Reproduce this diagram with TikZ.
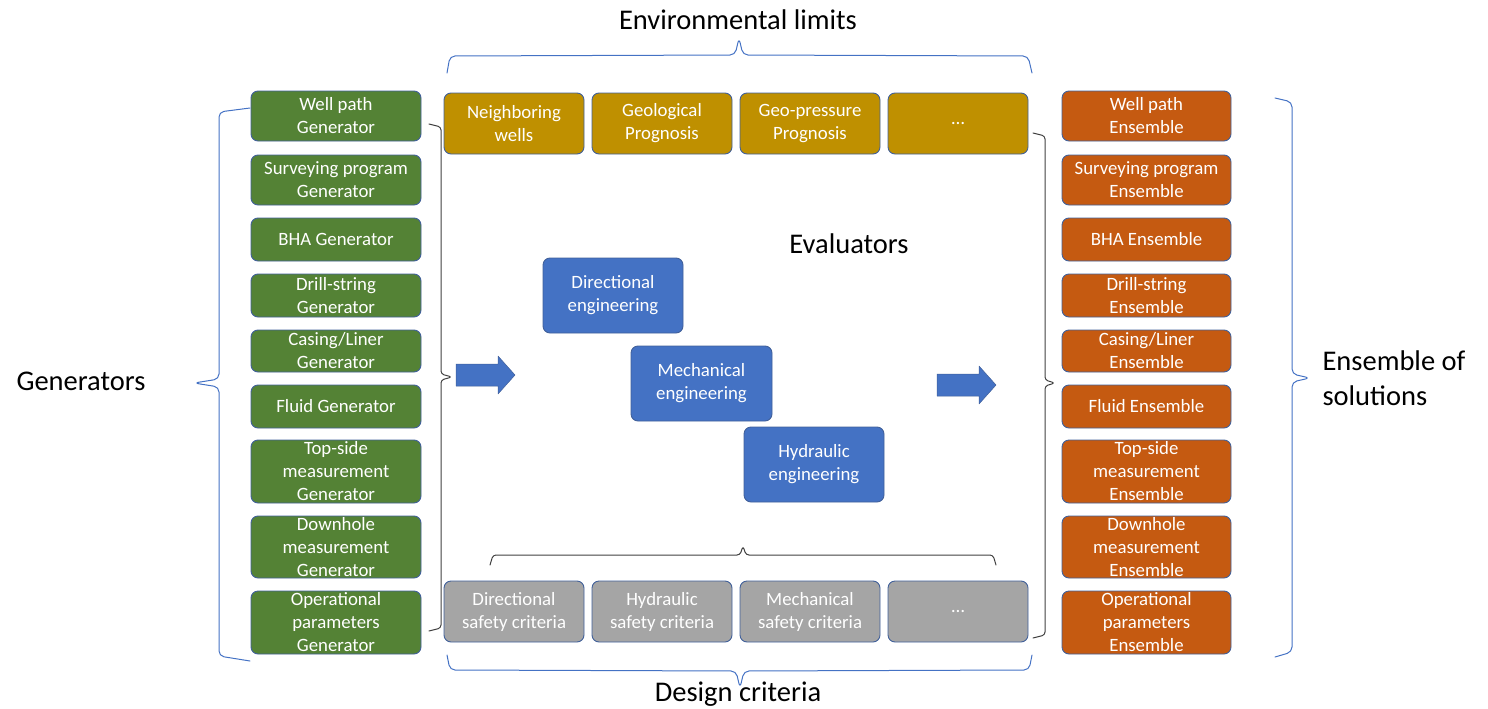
\documentclass[tikz,border=0pt]{standalone}
\usepackage{fontspec}
\setmainfont{Carlito}
\usepackage{tikz}
\usetikzlibrary{arrows}

\definecolor{gengreen}{HTML}{548235}
\definecolor{envgold}{HTML}{BF9000}
\definecolor{ensorange}{HTML}{C55A11}
\definecolor{evalblue}{HTML}{4472C4}
\definecolor{critgray}{HTML}{A5A5A5}
\definecolor{boxedge}{HTML}{41609A}
\definecolor{bracedark}{HTML}{404040}

\tikzset{
  box/.style={draw=boxedge, line width=0.9pt, rounded corners=7pt, text=white, align=center,
    inner sep=0pt, font=\fontsize{18.8}{23}\selectfont},
  genbox/.style={box, fill=gengreen, minimum width=170, minimum height=#1},
  ensbox/.style={box, fill=ensorange, minimum width=169, minimum height=#1},
  envbox/.style={box, fill=envgold, minimum width=140, minimum height=61},
  critbox/.style={box, fill=critgray, minimum width=140, minimum height=61},
  evalbox/.style={box, fill=evalblue, minimum width=140, minimum height=75},
  bigtext/.style={font=\fontsize{28.5}{35}\selectfont, align=left},
  bluebrace/.style={draw=evalblue, line width=1pt, rounded corners=5pt},
  darkbrace/.style={draw=bracedark, line width=1pt, rounded corners=3pt}
}

\begin{document}
\begin{tikzpicture}[line cap=round,line join=round,x=1pt,y=-1pt]
\useasboundingbox (0,0) rectangle (1488,709);

% generators
\node[genbox=50] (wellgen) at (336,116) {Well path\\Generator};
\node[genbox=50] (surveygen) at (336,180) {Surveying program\\Generator};
\node[genbox=43] (bhagen) at (336,239.5) {BHA Generator};
\node[genbox=43] (drillgen) at (336,295.5) {Drill-string\\Generator};
\node[genbox=42] (casinggen) at (336,351) {Casing/Liner\\Generator};
\node[genbox=43] (fluidgen) at (336,406.5) {Fluid Generator};
\node[genbox=63] (topgen) at (336,471.5) {Top-side\\measurement\\Generator};
\node[genbox=62] (downgen) at (336,547) {Downhole\\measurement\\Generator};
\node[genbox=63] (opgen) at (336,622.5) {Operational\\parameters\\Generator};

% ensembles
\node[ensbox=50] (wellens) at (1146.5,116) {Well path\\Ensemble};
\node[ensbox=50] (surveyens) at (1146.5,180) {Surveying program\\Ensemble};
\node[ensbox=43] (bhaens) at (1146.5,239.5) {BHA Ensemble};
\node[ensbox=43] (drillens) at (1146.5,295.5) {Drill-string\\Ensemble};
\node[ensbox=42] (casingens) at (1146.5,351) {Casing/Liner\\Ensemble};
\node[ensbox=43] (fluidens) at (1146.5,406.5) {Fluid Ensemble};
\node[ensbox=63] (topens) at (1146.5,471.5) {Top-side\\measurement\\Ensemble};
\node[ensbox=62] (downens) at (1146.5,547) {Downhole\\measurement\\Ensemble};
\node[ensbox=63] (opens) at (1146.5,622.5) {Operational\\parameters\\Ensemble};

% environmental limits
\node[envbox] (neighbor) at (514,123.5) {Neighboring\\wells};
\node[envbox] (geology) at (662,123.5) {Geological\\Prognosis};
\node[envbox] (geopress) at (810,123.5) {Geo-pressure\\Prognosis};
\node[envbox] (envmore) at (958,123.5) {…};

% design criteria
\node[critbox] (dircrit) at (514,611.5) {Directional\\safety criteria};
\node[critbox] (hydcrit) at (662,611.5) {Hydraulic\\safety criteria};
\node[critbox] (mechcrit) at (810,611.5) {Mechanical\\safety criteria};
\node[critbox] (critmore) at (958,611.5) {…};

% evaluators
\node[evalbox] (direng) at (613,295.5) {Directional\\engineering};
\node[evalbox, minimum width=141] (mecheng) at (701.5,383.5) {Mechanical\\engineering};
\node[evalbox] (hydeng) at (814,464.5) {Hydraulic\\engineering};

% labels
\node[bigtext] (genlabel) at (81,381) {Generators};
\node[bigtext, anchor=west] (enslabel) at (1319,378) {Ensemble of\\solutions};
\node[bigtext] (evallabel) at (849,244) {Evaluators};
\node[bigtext] (envlabel) at (738,20) {Environmental limits};
\node[bigtext] (critlabel) at (738,694) {Design criteria};

% block arrows
\filldraw[fill=evalblue, draw=boxedge, line width=0.5pt] (456,364) -- (498,364) -- (498,356) -- (515,375) -- (498,394) -- (498,386) -- (456,386) -- cycle;
\filldraw[fill=evalblue, draw=boxedge, line width=0.5pt] (937,374) -- (979,374) -- (979,366) -- (996,385) -- (979,404) -- (979,396) -- (937,396) -- cycle;

% blue braces
\draw[bluebrace] (250,108) -- (219,112) -- (219,379) -- (194,383) -- (219,387) -- (219,656) -- (250,661);
\draw[bluebrace] (1275,98) -- (1292,102) -- (1292,374) -- (1310,378) -- (1292,382) -- (1292,652) -- (1275,657);
\draw[bluebrace] (447,73) -- (450,56) -- (735,55) -- (739,38) -- (743,55) -- (1028,56) -- (1032,73);
\draw[bluebrace] (447,655) -- (450,670) -- (736,671) -- (740,688) -- (744,671) -- (1029,670) -- (1032,655);

% dark braces
\draw[darkbrace] (429,124) -- (441,127) -- (441,374) -- (452,377) -- (441,380) -- (441,628) -- (429,631);
\draw[darkbrace] (1033,133) -- (1045,136) -- (1045,380) -- (1055,383) -- (1045,386) -- (1045,635) -- (1033,638);
\draw[darkbrace] (490,565) -- (493,555) -- (740,555) -- (743,546) -- (746,555) -- (993,555) -- (996,565);
\end{tikzpicture}
\end{document}
